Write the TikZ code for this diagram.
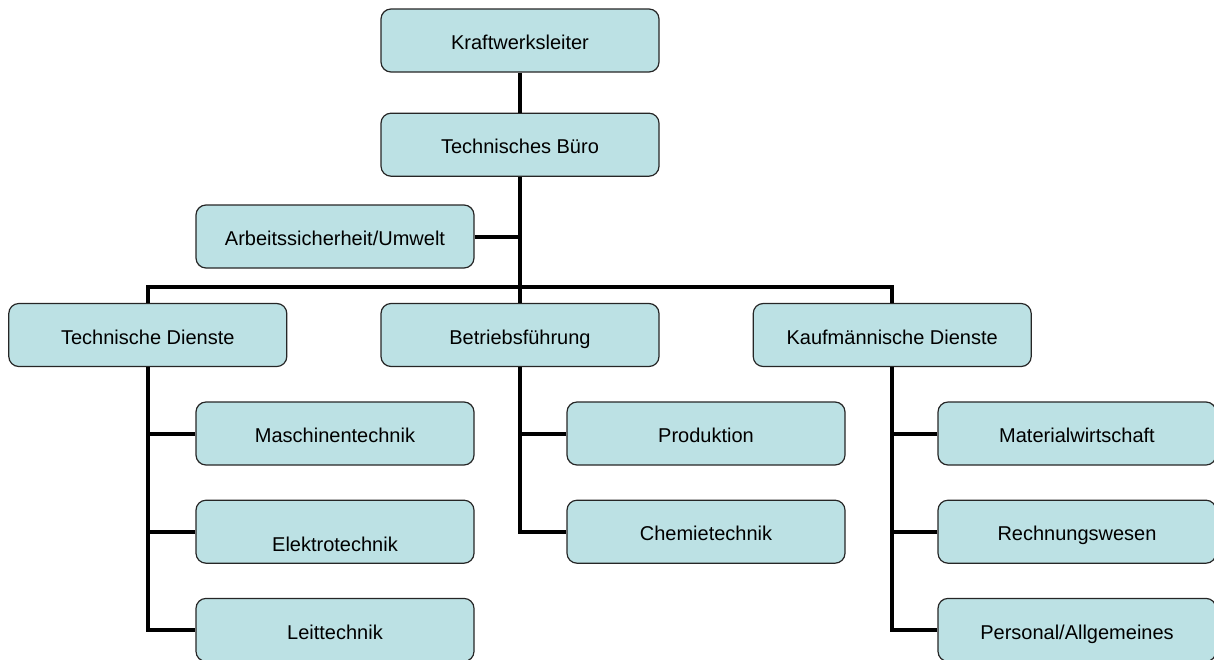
\documentclass[tikz,border=0pt]{standalone}
\usepackage{fontspec}
\setmainfont{Liberation Sans}
\usetikzlibrary{positioning}
\definecolor{unitfill}{RGB}{188,225,228}

\begin{document}
\begin{tikzpicture}[x=1pt, y=-1pt, node distance=34pt and 93pt, font=\fontsize{20}{24}\selectfont]
  \tikzstyle{unit}=[draw=black!85, line width=1.2pt, fill=unitfill, rounded corners=10pt, minimum width=278pt, minimum height=63pt, inner sep=0pt, text height=18.5pt, text depth=0pt]
  \tikzstyle{link}=[line width=4pt]
  \useasboundingbox (0,0) rectangle (1214,659);

  % Leitung
  \node[unit] (kwl) at (520,40.5) {Kraftwerksleiter};
  \node[unit, below=40pt of kwl] (tb) {Technisches Büro};
  \node[unit] (asu) at (335,236.5) {Arbeitssicherheit/Umwelt};

  % Bereiche
  \node[unit] (bf) at (520,335) {Betriebsführung};
  \node[unit, left=of bf] (td) {Technische Dienste};
  \node[unit, right=of bf] (kd) {Kaufmännische Dienste};

  % Abteilungen
  \node[unit] (mt) at (335,433.5) {Maschinentechnik};
  \node[unit, below=of mt, text height=40pt] (et) {Elektrotechnik};
  \node[unit, below=of et] (lt) {Leittechnik};

  \node[unit] (pr) at (706,433.5) {Produktion};
  \node[unit, below=of pr] (ct) {Chemietechnik};

  \node[unit] (mw) at (1077,433.5) {Materialwirtschaft};
  \node[unit, below=of mw] (rw) {Rechnungswesen};
  \node[unit, below=of rw] (pa) {Personal/Allgemeines};

  % Verbindungen
  \coordinate (bus) at (520,287);
  \draw[link] (kwl) -- (tb);
  \draw[link] (tb) -- (bf);
  \draw[link] (asu) -- (asu -| tb.south);
  \draw[link] (td.north) |- (bus) -| (kd.north);

  \draw[link] (td.south) |- (lt.west);
  \draw[link] (mt.west) -- (mt.west -| td.south);
  \draw[link] (et.west) -- (et.west -| td.south);

  \draw[link] (bf.south) |- (ct.west);
  \draw[link] (pr.west) -- (pr.west -| bf.south);

  \draw[link] (kd.south) |- (pa.west);
  \draw[link] (mw.west) -- (mw.west -| kd.south);
  \draw[link] (rw.west) -- (rw.west -| kd.south);
\end{tikzpicture}
\end{document}
